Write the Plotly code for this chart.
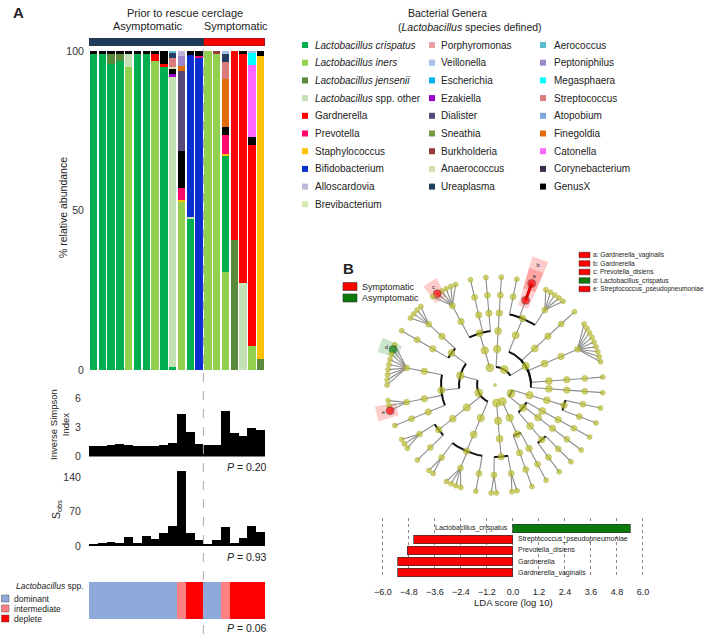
import math
import plotly.graph_objects as go

W, H = 709, 634
FONT = "Arial, 'Liberation Sans', Helvetica, sans-serif"


def px(x):
    return x / W


def py(y):
    return 1 - y / H


# ---------------------------------------------------------------- data (panel A)
samples = list(range(1, 21))
sample_group = ["Asymptomatic"] * 13 + ["Symptomatic"] * 7
lacto_status = (["dominant"] * 10 + ["intermediate"] + ["deplete"] * 2 +
                ["dominant"] * 2 + ["intermediate"] + ["deplete"] * 4)
inv_simpson = [1.1, 1.1, 1.2, 1.25, 1.2, 1.1, 1.1, 1.1, 1.2, 1.4,
               4.35, 2.5, 1.25, 1.15, 1.15, 4.75, 2.4, 2.15, 3.0, 2.7]
s_obs = [6, 8, 10, 8, 19, 8, 21, 16, 28, 42,
         152, 27, 14, 5, 13, 40, 7, 18, 41, 30]
p_simpson, p_sobs, p_status = "0.20", "0.93", "0.06"

# relative abundance (%) per genus, samples 1..20
ab_crispatus = [99, 99, 96, 97, 0, 99, 99, 0, 95, 1, 0, 47.3, 0, 0, 0, 36.2, 0, 0, 0, 0]
ab_iners = [0, 0, 0, 0, 95, 0, 0, 97, 0, 0, 52.7, 0, 0, 100, 99.2, 30.8, 0, 0, 7.5, 0]
ab_jensenii = [0, 0, 3, 2, 0, 0, 0, 0, 0, 0, 0, 0, 0, 0, 0, 0, 40.8, 0, 0, 3.3]
ab_lacto_other = [0, 0, 0, 0, 4, 0, 0, 0, 0, 91, 0, 0.8, 0, 0, 0, 0, 0, 27.4, 0, 0]
ab_bifido = [0, 0, 0, 0, 0, 0, 0, 0, 0, 0, 0, 50.7, 98, 0, 0, 0, 0, 0, 0, 0]
ab_gardnerella = [0, 0, 0, 0, 0, 0, 0, 2, 1, 0, 0, 0, 0, 0, 0, 0, 59.2, 71.6, 63, 0]
ab_staph = [0, 0, 0, 0, 0, 0, 0, 0, 0, 0, 0.7, 0, 0, 0, 0, 0.7, 0, 0, 0, 95]
ab_prevotella = [0, 0, 0, 0, 0, 0, 0, 0, 0, 0, 3.7, 0, 0.5, 0, 0, 6, 0, 0, 0, 0]
ab_ezakiella = [0, 0, 0, 0, 0, 0, 0, 0, 0, 0.7, 0, 0, 0, 0, 0, 0, 0, 0, 0, 0]
ab_genusx = [1, 1, 1, 1, 1, 1, 1, 1, 4, 1.8, 11.5, 1.2, 1.5, 0, 0, 2.4, 0, 1, 2.4, 1.7]
ab_burkholderia = [0, 0, 0, 0, 0, 0, 0, 0, 0, 0, 0, 0, 0, 0, 0.8, 0, 0, 0, 0, 0]
ab_dialister = [0, 0, 0, 0, 0, 0, 0, 0, 0, 0, 25, 0, 0, 0, 0, 0, 0, 0, 0, 0]
ab_finegoldia = [0, 0, 0, 0, 0, 0, 0, 0, 0, 0, 1.8, 0, 0, 0, 0, 15.2, 0, 0, 0, 0]
ab_peptoniphilus = [0, 0, 0, 0, 0, 0, 0, 0, 0, 0, 3.1, 0, 0, 0, 0, 0, 0, 0, 0, 0]
ab_anaerococcus = [0, 0, 0, 0, 0, 0, 0, 0, 0, 0.6, 0, 0, 0, 0, 0, 0, 0, 0, 0, 0]
ab_catonella = [0, 0, 0, 0, 0, 0, 0, 0, 0, 0, 0, 0, 0, 0, 0, 0, 0, 0, 22.7, 0]
ab_strep = [0, 0, 0, 0, 0, 0, 0, 0, 0, 2.6, 0, 0, 0, 0, 0, 5.4, 0, 0, 0, 0]
ab_megasphaera = [0, 0, 0, 0, 0, 0, 0, 0, 0, 0, 0, 0, 0, 0, 0, 0, 0, 0, 3.8, 0]
ab_ureaplasma = [0, 0, 0, 0, 0, 0, 0, 0, 0, 1.6, 0, 0, 0, 0, 0, 2.4, 0, 0, 0, 0]
ab_veillonella = [0, 0, 0, 0, 0, 0, 0, 0, 0, 0, 0, 0, 0, 0, 0, 0.9, 0, 0, 0.6, 0]
ab_aerococcus = [0, 0, 0, 0, 0, 0, 0, 0, 0, 0.7, 0, 0, 0, 0, 0, 0, 0, 0, 0, 0]
ab_alloscardovia = [0, 0, 0, 0, 0, 0, 0, 0, 0, 0, 1.5, 0, 0, 0, 0, 0, 0, 0, 0, 0]

# legend (3 columns)
legend_names = [
    "Lactobacillus crispatus", "Lactobacillus iners", "Lactobacillus jensenii",
    "Lactobacillus spp. other", "Gardnerella", "Prevotella", "Staphylococcus",
    "Bifidobacterium", "Alloscardovia", "Brevibacterium",
    "Porphyromonas", "Veillonella", "Escherichia", "Ezakiella", "Dialister",
    "Sneathia", "Burkholderia", "Anaerococcus", "Ureaplasma",
    "Aerococcus", "Peptoniphilus", "Megasphaera", "Streptococcus", "Atopobium",
    "Finegoldia", "Catonella", "Corynebacterium", "GenusX",
]
legend_rows_per_col = [10, 9, 9]
legend_colors = [
    "#00b050", "#92d050", "#588a3a", "#c5e0b4", "#ff0000", "#ff0b6e", "#ffc000",
    "#0a2fd0", "#c0b4d8", "#d4e8b0",
    "#e8a0a0", "#a6c0e8", "#00b0f0", "#9b00c8", "#584878", "#789a40", "#9a3a3a",
    "#cfe3b0", "#243e62",
    "#5bbcd0", "#9c88c8", "#00ffff", "#d97b7b", "#7fa6dc", "#e36c0a", "#ff66ff",
    "#3d2c4e", "#000000",
]
genus_color = dict(zip(legend_names, legend_colors))

abundance = {
    "Lactobacillus iners": ab_iners,
    "Lactobacillus crispatus": ab_crispatus,
    "Lactobacillus jensenii": ab_jensenii,
    "Lactobacillus spp. other": ab_lacto_other,
    "Bifidobacterium": ab_bifido,
    "Gardnerella": ab_gardnerella,
    "Staphylococcus": ab_staph,
    "Prevotella": ab_prevotella,
    "Ezakiella": ab_ezakiella,
    "GenusX": ab_genusx,
    "Burkholderia": ab_burkholderia,
    "Dialister": ab_dialister,
    "Finegoldia": ab_finegoldia,
    "Peptoniphilus": ab_peptoniphilus,
    "Anaerococcus": ab_anaerococcus,
    "Catonella": ab_catonella,
    "Streptococcus": ab_strep,
    "Megasphaera": ab_megasphaera,
    "Ureaplasma": ab_ureaplasma,
    "Veillonella": ab_veillonella,
    "Aerococcus": ab_aerococcus,
    "Alloscardovia": ab_alloscardovia,
}
group_colors = {"Asymptomatic": "#1b3a5c", "Symptomatic": "#ff0000"}
status_names = ["dominant", "intermediate", "deplete"]
status_colors = {"dominant": "#8eaadb", "intermediate": "#ff8080", "deplete": "#ff0000"}

# ---------------------------------------------------------------- data (panel B)
clade_lineages = [
    ("Tenericutes|Mollicutes|Mycoplasmatales|Mycoplasmataceae|Ureaplasma", ["parvum", "urealyticum"]),
    ("Tenericutes|Mollicutes|Mycoplasmatales|Mycoplasmataceae|Mycoplasma", ["hominis", "girerdii"]),
    ("Fusobacteria|Fusobacteriia|Fusobacteriales|Leptotrichiaceae|Sneathia", ["amnii"]),
    ("Fusobacteria|Fusobacteriia|Fusobacteriales|Fusobacteriaceae|Fusobacterium", ["nucleatum"]),
    ("Proteobacteria|Gammaproteobacteria|Enterobacterales|Enterobacteriaceae|Escherichia", ["coli"]),
    ("Proteobacteria|Gammaproteobacteria|Enterobacterales|Enterobacteriaceae|Klebsiella", ["pneumoniae"]),
    ("Proteobacteria|Gammaproteobacteria|Pasteurellales|Pasteurellaceae|Haemophilus", ["parainfluenzae"]),
    ("Proteobacteria|Gammaproteobacteria|Pseudomonadales|Pseudomonadaceae|Pseudomonas", ["aeruginosa"]),
    ("Proteobacteria|Betaproteobacteria|Burkholderiales|Burkholderiaceae|Burkholderia", ["cepacia"]),
    ("Proteobacteria|Betaproteobacteria|Burkholderiales|Burkholderiaceae|Ralstonia", ["pickettii"]),
    ("Actinobacteria|Actinobacteria|Propionibacteriales|Propionibacteriaceae|Cutibacterium", ["acnes"]),
    ("Actinobacteria|Actinobacteria|Micrococcales|Micrococcaceae|Micrococcus", ["luteus"]),
    ("Actinobacteria|Actinobacteria|Corynebacteriales|Corynebacteriaceae|Corynebacterium",
     ["amycolatum", "aurimucosum", "glucuronolyticum", "tuberculostearicum", "accolens",
      "kroppenstedtii", "striatum", "pyruviciproducens", "imitans"]),
    ("Actinobacteria|Actinobacteria|Actinomycetales|Actinomycetaceae|Actinomyces", ["neuii"]),
    ("Actinobacteria|Actinobacteria|Bifidobacteriales|Bifidobacteriaceae|Bifidobacterium",
     ["breve", "longum", "bifidum", "dentium", "adolescentis"]),
    ("Actinobacteria|Actinobacteria|Bifidobacteriales|Bifidobacteriaceae|Gardnerella", ["vaginalis"]),
    ("Actinobacteria|Actinobacteria|Bifidobacteriales|Bifidobacteriaceae|Alloscardovia", ["omnicolens"]),
    ("Actinobacteria|Coriobacteriia|Coriobacteriales|Atopobiaceae|Atopobium", ["vaginae"]),
    ("Bacteroidetes|Bacteroidia|Bacteroidales|Bacteroidaceae|Bacteroides", ["fragilis"]),
    ("Bacteroidetes|Bacteroidia|Bacteroidales|Porphyromonadaceae|Porphyromonas", ["asaccharolytica"]),
    ("Bacteroidetes|Bacteroidia|Bacteroidales|Prevotellaceae|Prevotella",
     ["bivia", "amnii", "timonensis", "buccalis", "disiens", "corporis"]),
    ("Firmicutes|Bacilli|Bacillales|Staphylococcaceae|Staphylococcus",
     ["epidermidis", "haemolyticus", "hominis", "aureus"]),
    ("Firmicutes|Bacilli|Bacillales|Gemellaceae|Gemella", ["asaccharolytica"]),
    ("Firmicutes|Bacilli|Lactobacillales|Lactobacillaceae|Lactobacillus",
     ["gasseri", "crispatus", "iners", "jensenii", "vaginalis", "delbrueckii",
      "mulieris", "coleohominis", "paragasseri"]),
    ("Firmicutes|Bacilli|Lactobacillales|Streptococcaceae|Streptococcus",
     ["agalactiae", "anginosus", "pseudopneumoniae"]),
    ("Firmicutes|Bacilli|Lactobacillales|Aerococcaceae|Aerococcus", ["christensenii"]),
    ("Firmicutes|Negativicutes|Veillonellales|Veillonellaceae|Veillonella",
     ["montpellierensis", "atypica", "parvula"]),
    ("Firmicutes|Negativicutes|Veillonellales|Veillonellaceae|Megasphaera", ["lornae"]),
    ("Firmicutes|Tissierellia|Tissierellales|Peptoniphilaceae|Peptoniphilus", ["harei", "lacrimalis"]),
    ("Firmicutes|Tissierellia|Tissierellales|Peptoniphilaceae|Anaerococcus",
     ["vaginalis", "tetradius", "prevotii", "obesiensis"]),
    ("Firmicutes|Tissierellia|Tissierellales|Peptoniphilaceae|Finegoldia", ["magna"]),
]
lefse_features = ["Gardnerella_vaginalis", "Gardnerella", "Prevotella_disiens",
                  "Lactobacillus_crispatus", "Streptococcus_pseudopneumoniae"]
lefse_letters = ["a", "b", "c", "d", "e"]
lefse_class = ["Symptomatic", "Symptomatic", "Symptomatic", "Asymptomatic", "Symptomatic"]
class_names = ["Symptomatic", "Asymptomatic"]
class_colors = {"Symptomatic": "#ff0000", "Asymptomatic": "#0b7a0b"}

lda_features = ["Lactobacillus_crispatus", "Streptococcus_pseudopneumoniae",
                "Prevotella_disiens", "Gardnerella", "Gardnerella_vaginalis"]
lda_scores = [5.41, -4.59, -4.89, -5.31, -5.31]
lda_ticks = [-6.0, -4.8, -3.6, -2.4, -1.2, 0.0, 1.2, 2.4, 3.6, 4.8, 6.0]

# ---------------------------------------------------------------- figure
fig = go.Figure()
shapes = []
annotations = []


def add_text(x, y, text, size=10, anchor="left", color="#222", angle=0, yanchor="middle"):
    annotations.append(dict(x=px(x), y=py(y), xref="paper", yref="paper", text=text,
                            showarrow=False, xanchor=anchor, yanchor=yanchor,
                            textangle=angle, borderpad=0,
                            font=dict(size=size, color=color, family=FONT)))


# stacked relative abundance
for g, vals in abundance.items():
    fig.add_trace(go.Bar(x=samples, y=vals, width=0.84, xaxis="x", yaxis="y",
                         marker=dict(color=genus_color[g], line=dict(width=0)),
                         hoverinfo="skip"))

# group strip
fig.add_trace(go.Bar(x=samples, y=[1] * len(samples), width=1.0, xaxis="x2", yaxis="y2",
                     marker=dict(color=[group_colors[g] for g in sample_group], line=dict(width=0)),
                     hoverinfo="skip"))
for g in group_colors:
    idx = [s for s, gg in zip(samples, sample_group) if gg == g]
    shapes.append(dict(type="rect", xref="x2", yref="y2", x0=min(idx) - 0.5, x1=max(idx) + 0.5,
                       y0=0, y1=1, line=dict(color="#333", width=0.8)))

# inverse simpson
fig.add_trace(go.Bar(x=samples, y=inv_simpson, width=1.0, xaxis="x3", yaxis="y3",
                     marker=dict(color="black", line=dict(width=0)), hoverinfo="skip"))
# S_obs
fig.add_trace(go.Bar(x=samples, y=s_obs, width=1.0, xaxis="x4", yaxis="y4",
                     marker=dict(color="black", line=dict(width=0)), hoverinfo="skip"))
# lactobacillus status
fig.add_trace(go.Bar(x=samples, y=[1] * len(samples), width=1.0, xaxis="x5", yaxis="y5",
                     marker=dict(color=[status_colors[s] for s in lacto_status], line=dict(width=0)),
                     hoverinfo="skip"))

# group boundary dashed line
n_asym = sample_group.count("Asymptomatic")
shapes.append(dict(type="line", xref="x", yref="paper", x0=n_asym + 0.5, x1=n_asym + 0.5,
                   y0=0, y1=py(47), layer="above",
                   line=dict(color="#a8a8b8", width=1, dash="dash")))

# ------------------------------------------------ cladogram layout
R_STEP = 18.0
SAME_GAP, NEW_GAP = 1.0, 3.0
START_DEG = -92.0

nodes = {"": {"name": "Bacteria", "depth": 0, "children": [], "parent": None}}
leaves = []
for lineage, species in clade_lineages:
    parts = lineage.split("|")
    for sp in species:
        full = parts + [parts[-1] + "_" + sp]
        for d in range(1, len(full) + 1):
            key = "|".join(full[:d])
            if key not in nodes:
                par = "|".join(full[:d - 1])
                nodes[key] = {"name": full[d - 1], "depth": d, "children": [], "parent": par}
                nodes[par]["children"].append(key)
        leaves.append("|".join(full))

pos = []
p = 0.0
for i, lf in enumerate(leaves):
    if i > 0:
        p += SAME_GAP if nodes[lf]["parent"] == nodes[leaves[i - 1]]["parent"] else NEW_GAP
    pos.append(p)
total = p + NEW_GAP
deg_per = 360.0 / total
ang = {lf: START_DEG + pp * deg_per for lf, pp in zip(leaves, pos)}


def node_angle(key):
    if key in ang:
        return ang[key]
    a = [node_angle(c) for c in nodes[key]["children"]]
    ang[key] = (min(a) + max(a)) / 2.0
    return ang[key]


node_angle("")


def pol(r, t):
    return r * math.cos(math.radians(t)), r * math.sin(math.radians(t))


hl = {f: (l, c) for f, l, c in zip(lefse_features, lefse_letters, lefse_class)}

# highlight wedges
for key, n in nodes.items():
    if n["name"] in hl:
        letter, cls = hl[n["name"]]
        r0 = R_STEP * n["depth"] - 7
        r1 = 122 if n["depth"] == 6 else 134
        t = ang[key]
        dt = 3.6
        xs, ys = [], []
        for k in range(9):
            xx, yy = pol(r1, t - dt + 2 * dt * k / 8)
            xs.append(xx); ys.append(yy)
        for k in range(9):
            xx, yy = pol(r0, t + dt - 2 * dt * k / 8)
            xs.append(xx); ys.append(yy)
        fill = "rgba(255,0,0,0.2)" if cls == "Symptomatic" else "rgba(0,128,0,0.2)"
        fig.add_trace(go.Scatter(x=xs, y=ys, fill="toself", fillcolor=fill, mode="lines",
                                 line=dict(width=0), xaxis="x6", yaxis="y6", hoverinfo="skip"))

gx, gy, bx, by, hx, hy = [], [], [], [], [], []
for key, n in nodes.items():
    if not n["children"] or n["depth"] == 0:
        continue
    rp = R_STEP * n["depth"]
    tp = ang[key]
    for c in n["children"]:
        rc = R_STEP * nodes[c]["depth"]
        tc = ang[c]
        x1, y1 = pol(rc, tc)
        if n["depth"] == 5:
            x0, y0 = pol(rp, tp)
            if n["name"] in hl and nodes[c]["name"] in hl:
                hx += [x0, x1, None]; hy += [y0, y1, None]
            else:
                gx += [x0, x1, None]; gy += [y0, y1, None]
        else:
            steps = max(2, int(abs(tc - tp)) + 1)
            for s in range(steps + 1):
                xx, yy = pol(rp, tp + (tc - tp) * s / steps)
                bx.append(xx); by.append(yy)
            bx.append(None); by.append(None)
            x0, y0 = pol(rp, tc)
            gx += [x0, x1, None]; gy += [y0, y1, None]

fig.add_trace(go.Scatter(x=gx, y=gy, mode="lines", line=dict(color="#8c8c8c", width=1.1),
                         xaxis="x6", yaxis="y6", hoverinfo="skip"))
fig.add_trace(go.Scatter(x=bx, y=by, mode="lines", line=dict(color="#111", width=2),
                         xaxis="x6", yaxis="y6", hoverinfo="skip"))
fig.add_trace(go.Scatter(x=hx, y=hy, mode="lines", line=dict(color="#e00000", width=3),
                         xaxis="x6", yaxis="y6", hoverinfo="skip"))

size_by_depth = {0: 3, 1: 8, 2: 7.5, 3: 7, 4: 6.5, 5: 6, 6: 5}
nx, ny, nc, ns, nl = [], [], [], [], []
for key, n in nodes.items():
    xx, yy = pol(R_STEP * n["depth"], ang[key])
    nx.append(xx); ny.append(yy)
    if n["name"] in hl:
        nc.append(class_colors[hl[n["name"]][1]]); ns.append(8); nl.append("#333")
    else:
        nc.append("#bcc02c"); ns.append(size_by_depth[n["depth"]]); nl.append("#9a9c22")
fig.add_trace(go.Scatter(x=nx, y=ny, mode="markers", xaxis="x6", yaxis="y6",
                         marker=dict(color=nc, size=ns, line=dict(color=nl, width=0.6)),
                         hoverinfo="skip"))

lx, ly, lt = [], [], []
for key, n in nodes.items():
    if n["name"] in hl:
        rr = 115 if n["depth"] == 6 else 127
        xx, yy = pol(rr, ang[key])
        lx.append(xx); ly.append(yy); lt.append(hl[n["name"]][0])
fig.add_trace(go.Scatter(x=lx, y=ly, mode="text", text=lt, xaxis="x6", yaxis="y6",
                         textfont=dict(size=6, color="#333", family=FONT), hoverinfo="skip"))

# ------------------------------------------------ LDA bars
fig.add_trace(go.Bar(y=lda_features, x=lda_scores, orientation="h", width=0.8,
                     xaxis="x7", yaxis="y7", base=0,
                     marker=dict(color=[class_colors[hl[f][1]] for f in lda_features],
                                 line=dict(color="#333", width=0.7)),
                     hoverinfo="skip"))
for f, v in zip(lda_features, lda_scores):
    annotations.append(dict(x=-0.12 if v > 0 else 0.12, y=f, xref="x7", yref="y7", text=f,
                            showarrow=False, xanchor="right" if v > 0 else "left",
                            font=dict(size=7, color="#222", family=FONT)))

# ------------------------------------------------ text / legends
add_text(12, 13, "<b>A</b>", 15)
add_text(342, 268, "<b>B</b>", 15)
add_text(185, 13, "Prior to rescue cerclage", 11, "center")
add_text(148, 26, "Asymptomatic", 11, "center")
add_text(236, 26, "Symptomatic", 11, "center")
add_text(63, 208, "% relative abundance", 10.5, "center", angle=-90)
add_text(59, 425, "Inverse Simpson<br>Index", 9.5, "center", angle=-90)
add_text(57, 510, "S<sub>obs</sub>", 10.5, "center", angle=-90)
add_text(268, 467, "<i>P</i> = " + p_simpson, 10.5, "right")
add_text(268, 557, "<i>P</i> = " + p_sobs, 10.5, "right")
add_text(268, 628, "<i>P</i> = " + p_status, 10.5, "right")

# lactobacillus status legend
add_text(15, 586, "<i>Lactobacillus</i> spp.", 8.5)
for i, s in enumerate(status_names):
    yy = 598.5 + 10 * i
    shapes.append(dict(type="rect", xref="paper", yref="paper", x0=px(1.5), x1=px(9),
                       y0=py(yy + 3.5), y1=py(yy - 3.5), fillcolor=status_colors[s],
                       line=dict(color="#555", width=0.5)))
    add_text(13, yy, s, 8.5)

# genera legend
add_text(447, 13, "Bacterial Genera", 10.5, "center")
add_text(470, 27, "(<i>Lactobacillus</i> species defined)", 10.5, "center")
col_sq_x = [305, 432, 543]
col_tx_x = [314, 440, 553]
k = 0
for c, nrows in enumerate(legend_rows_per_col):
    for r in range(nrows):
        name = legend_names[k]
        col = legend_colors[k]
        k += 1
        yy = 45 + 17.7 * r
        shapes.append(dict(type="rect", xref="paper", yref="paper",
                           x0=px(col_sq_x[c] - 3), x1=px(col_sq_x[c] + 3),
                           y0=py(yy + 3), y1=py(yy - 3), fillcolor=col, line=dict(width=0)))
        if name.startswith("Lactobacillus spp."):
            label = "<i>Lactobacillus</i> spp. other"
        elif name.startswith("Lactobacillus"):
            label = "<i>" + name + "</i>"
        else:
            label = name
        add_text(col_tx_x[c], yy, label, 10)

# cladogram class legend
for i, cname in enumerate(class_names):
    yy = 286.5 + 11.5 * i
    shapes.append(dict(type="rect", xref="paper", yref="paper", x0=px(343), x1=px(357),
                       y0=py(yy + 4), y1=py(yy - 4), fillcolor=class_colors[cname],
                       line=dict(color="#333", width=0.6)))
    add_text(361, yy, cname, 9)

# feature letter legend
for i, (f, l, c) in enumerate(zip(lefse_features, lefse_letters, lefse_class)):
    yy = 255 + 8.5 * i
    shapes.append(dict(type="rect", xref="paper", yref="paper", x0=px(579), x1=px(590),
                       y0=py(yy + 2.8), y1=py(yy - 2.8), fillcolor=class_colors[c],
                       line=dict(color="#333", width=0.5)))
    add_text(592, yy, l + ": " + f, 6.6)

add_text(513, 602, "LDA score (log 10)", 9.5, "center")

# ------------------------------------------------ axes
hidden = dict(visible=False, fixedrange=True, automargin=False)
xdom = [px(89), px(265)]
xr = [0.5, len(samples) + 0.5]
tick_common = dict(showgrid=False, zeroline=False, showline=False, ticks="outside",
                   tickcolor="rgba(0,0,0,0)", tickfont=dict(size=10.5, color="#333", family=FONT),
                   fixedrange=True, automargin=False)
s_top = 546.5 - 153 * 34.8 / 70
clade_half = 140
cx, cy = 495, 385
lda_l = 383 - 0.05 * 260 / 12
lda_r = 643 + 0.05 * 260 / 12

fig.update_layout(
    template="none",
    width=W, height=H, margin=dict(l=0, r=0, t=0, b=0, pad=0, autoexpand=False),
    paper_bgcolor="white", plot_bgcolor="rgba(0,0,0,0)",
    barmode="stack", showlegend=False, font=dict(family=FONT),
    shapes=shapes, annotations=annotations,
    xaxis=dict(domain=xdom, range=xr, anchor="y", **hidden),
    yaxis=dict(domain=[py(370), py(51)], range=[0, 100], tickvals=[0, 50, 100],
               ticklen=2, anchor="x", **tick_common),
    xaxis2=dict(domain=xdom, range=xr, anchor="y2", **hidden),
    yaxis2=dict(domain=[py(46), py(38)], range=[0, 1], anchor="x2", **hidden),
    xaxis3=dict(domain=xdom, range=xr, anchor="y3", **hidden),
    yaxis3=dict(domain=[py(456.5), py(398.5)], range=[0, 6], tickvals=[0, 3, 6],
                ticklen=5, anchor="x3", **tick_common),
    xaxis4=dict(domain=xdom, range=xr, anchor="y4", **hidden),
    yaxis4=dict(domain=[py(546.5), py(s_top)], range=[0, 153], tickvals=[0, 70, 140],
                ticklen=5, anchor="x4", **tick_common),
    xaxis5=dict(domain=xdom, range=xr, anchor="y5", **hidden),
    yaxis5=dict(domain=[py(619), py(582)], range=[0, 1], anchor="x5", **hidden),
    xaxis6=dict(domain=[px(cx - clade_half), px(cx + clade_half)],
                range=[-clade_half, clade_half], anchor="y6", **hidden),
    yaxis6=dict(domain=[py(cy + clade_half), py(cy - clade_half)],
                range=[-clade_half, clade_half], anchor="x6", **hidden),
    xaxis7=dict(domain=[px(lda_l), px(lda_r)], range=[-6.05, 6.05], anchor="y7",
                tickvals=lda_ticks, tickformat=".1f", showgrid=True, griddash="dot",
                gridcolor="#8a8a8a", gridwidth=0.8, zeroline=False, showline=False,
                ticks="outside", ticklen=5, tickcolor="rgba(0,0,0,0)", automargin=False,
                tickfont=dict(size=9, color="#222", family=FONT), fixedrange=True),
    yaxis7=dict(domain=[py(578), py(518)], type="category", categoryorder="array",
                categoryarray=lda_features, range=[4.5, -0.95], anchor="x7", **hidden),
)

fig.write_html("out.html", config={"displayModeBar": False},
               post_script="document.body.style.margin='0px';document.body.style.overflow='hidden';")
